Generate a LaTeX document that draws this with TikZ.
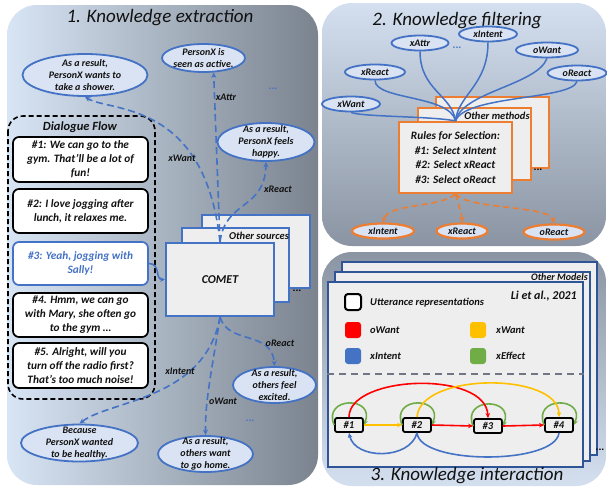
\documentclass[tikz,border=0pt]{standalone}
\usepackage{fontspec}
\setmainfont{Carlito}
\usetikzlibrary{arrows.meta,shapes.geometric}
\definecolor{eblue}{HTML}{4472C4}
\definecolor{efill}{HTML}{DAE3F3}
\definecolor{bfill}{HTML}{EEEEEE}
\definecolor{eorange}{HTML}{ED7D31}
\definecolor{cred}{HTML}{FF0000}
\definecolor{cyel}{HTML}{FFC000}
\definecolor{cgreen}{HTML}{70AD47}
\definecolor{mblue}{HTML}{2F5597}
\definecolor{pLight}{HTML}{D8E5F5}
\definecolor{pDark}{HTML}{7A838E}
\definecolor{qTop}{HTML}{D4E0F0}
\definecolor{qBot}{HTML}{8A94A2}
\definecolor{txt}{HTML}{111111}
\definecolor{sepgray}{HTML}{6F7784}
\begin{document}
\begin{tikzpicture}[x=1pt,y=-1pt,
  ell/.style={ellipse, draw=eblue, line width=1.8pt, fill=efill, inner sep=0pt},
  etext/.style={align=center, text=txt, font=\fontsize{10}{12}\selectfont\bfseries\itshape, inner sep=0pt},
  lbl/.style={font=\fontsize{10}{11}\selectfont\bfseries\itshape, text=txt, inner sep=0pt},
  ttl/.style={font=\fontsize{19}{21}\selectfont\itshape, text=txt, inner sep=0pt},
  dlg/.style={draw=black, rounded corners=6pt, line width=1.7pt, fill=white, minimum width=135pt, align=center, font=\fontsize{11.3}{14}\selectfont\bfseries\itshape, text=txt, inner sep=0pt},
  darr/.style={draw=eblue, line width=1.6pt, dash pattern=on 7pt off 4pt, -{Stealth[length=5.5pt,width=5pt]}},
  stk/.style={draw=eblue, fill=bfill, line width=1.3pt},
  ostk/.style={draw=eorange, fill=bfill, line width=1.8pt},
  mstk/.style={draw=mblue, fill=bfill, line width=1.4pt},
  bline/.style={draw=eblue, line width=1.5pt},
  sell/.style={ellipse, draw=eblue, line width=1.8pt, fill=efill, inner sep=0pt, minimum height=15pt, font=\fontsize{10}{11}\selectfont\bfseries\itshape, text=txt},
  oell/.style={ellipse, draw=eorange, line width=2.2pt, fill=efill, inner sep=0pt, minimum height=15pt, font=\fontsize{10}{11}\selectfont\bfseries\itshape, text=txt},
  oarr/.style={draw=eorange, line width=1.6pt, dash pattern=on 6pt off 4pt, -{Stealth[length=5.5pt,width=5pt]}},
  dots/.style={font=\fontsize{11}{12}\selectfont\bfseries, inner sep=0pt},
  unode/.style={draw=black, line width=1.8pt, fill=bfill, rounded corners=2pt, minimum width=28pt, minimum height=14pt, inner sep=0pt, font=\fontsize{10.5}{11}\selectfont\bfseries\itshape, text=txt},
  lsq/.style={rounded corners=3pt, minimum width=16pt, minimum height=16pt, inner sep=0pt},
  ltext/.style={anchor=west, font=\fontsize{10.5}{12}\selectfont\bfseries\itshape, text=txt, inner sep=0pt},
  iarr/.style={line width=1.6pt, -{Stealth[length=5pt,width=4.5pt]}}
]
\useasboundingbox (0,0) rectangle (607,488);
% ---------- panels ----------
\shade[left color=pLight, right color=pDark, rounded corners=30pt] (7,5) rectangle (318,485);
\shade[top color=qTop, bottom color=qBot, rounded corners=30pt] (322,3) rectangle (606,246);
\shade[top color=qBot, bottom color=qTop, rounded corners=30pt] (322,252) rectangle (606,486);

% ---------- panel 1 ----------
\node[ttl] (t1) at (160,18) {1. Knowledge extraction};

\node[ell, minimum width=125pt, minimum height=42pt] (shower) at (85,75) {};
\node[etext] (showert) at (shower) {As a result,\\PersonX wants to\\take a shower.};
\node[ell, minimum width=83pt, minimum height=28pt] (active) at (203.5,58) {};
\node[etext] (activet) at (active) {PersonX is\\seen as active.};
\node[ell, minimum width=97pt, minimum height=38pt] (happy) at (266,142) {};
\node[etext] (happyt) at (happy) {As a result,\\PersonX feels\\happy.};
\node[ell, minimum width=83pt, minimum height=36pt] (excited) at (274.5,385) {};
\node[etext] (excitedt) at (excited) {As a result,\\others feel\\excited.};
\node[ell, minimum width=95pt, minimum height=36pt] (home) at (205.5,454) {};
\node[etext] (homet) at (home) {As a result,\\others want\\to go home.};
\node[ell, minimum width=117pt, minimum height=37pt] (healthy) at (79.5,443) {};
\node[etext] (healthyt) at (healthy) {Because\\PersonX wanted\\to be healthy.};

\node[dots, text=eblue] (dotsA) at (273,89) {...};
\node[dots, text=eblue] (dotsB) at (250,421) {...};

% dialogue flow
\draw[black, line width=1.6pt, dash pattern=on 5pt off 3pt, rounded corners=15pt] (8,116) rectangle (155,399);
\node[font=\fontsize{12.5}{14}\selectfont\bfseries\itshape, text=txt] (dft) at (80,127) {Dialogue Flow};
\node[dlg, minimum height=45pt] (d1) at (80.5,159.5) {\#1: We can go to the\\gym. That’ll be a lot of\\fun!};
\node[dlg, minimum height=44pt] (d2) at (80.5,211) {\#2: I love jogging after\\lunch, it relaxes me.};
\node[dlg, minimum height=43pt, draw=eblue, text=eblue] (d3) at (80.5,263.5) {\#3: Yeah, jogging with\\Sally!};
\node[dlg, minimum height=44pt] (d4) at (80.5,315) {\#4. Hmm, we can go\\with Mary, she often go\\to the gym …};
\node[dlg, minimum height=45pt] (d5) at (80.5,365.5) {\#5. Alright, will you\\turn off the radio first?\\That’s too much noise!};

% COMET stack
\draw[stk] (202,215) rectangle (310,288);
\draw[stk] (182,228) rectangle (289,302);
\node[lbl, font=\fontsize{10.5}{11}\selectfont\bfseries\itshape] (osrc) at (259,236) {Other sources};
\node[draw=eblue, fill=bfill, line width=2pt, minimum width=108pt, minimum height=73pt, inner sep=0pt, font=\fontsize{12}{12}\selectfont\bfseries\itshape, text=txt] (comet) at (220,279.5) {COMET};
\node[dots] (dotsC) at (297,291) {...};

% arrows from COMET
\draw[darr] (comet.north) .. controls (205,100) and (110,112) .. (shower.south);
\draw[darr] (comet.north) -- (active.-55);
\draw[darr] (comet.north) .. controls (225,200) and (265,210) .. (happy.south);
\draw[darr] (comet.south) .. controls (228,345) and (272,330) .. (excited.north);
\draw[darr] (comet.south) .. controls (212,370) and (205,400) .. (home.north);
\draw[darr] (comet.south) .. controls (205,400) and (110,400) .. (healthy.north);
\draw[eblue, line width=1.5pt, -{Stealth[length=5pt,width=4.5pt]}] (d3.east) .. controls +(12,0) and +(-10,0) .. (comet.west);

\node[lbl] (lxWant) at (182,158) {xWant};
\node[lbl] (lxAttr) at (226,97) {xAttr};
\node[lbl] (lxReact) at (278,189) {xReact};
\node[lbl] (loReact) at (280,343) {oReact};
\node[lbl] (lxIntent) at (180,371) {xIntent};
\node[lbl] (loWant) at (223,401) {oWant};

% ---------- panel 2 ----------
\node[ttl] (t2) at (457,21) {2. Knowledge filtering};
\draw[ostk] (436,97) rectangle (549,168);
\draw[ostk] (418,108) rectangle (531,180);
\node[lbl, font=\fontsize{10.5}{11}\selectfont\bfseries\itshape] (omth) at (497,115.5) {Other methods};
\node[dots] (dotsD) at (538,170) {...};
\node[draw=eorange, fill=bfill, line width=2.2pt, minimum width=113pt, minimum height=71pt, inner sep=0pt, align=center, font=\fontsize{11.3}{14.5}\selectfont\bfseries\itshape, text=txt] (rules) at (455.5,157.5) {Rules for Selection:\\\#1: Select xIntent\\\#2: Select xReact\\\#3: Select oReact};

\node[sell, minimum width=58pt] (pxWant) at (351,104) {xWant};
\node[sell, minimum width=60pt] (pxReact) at (375,72) {xReact};
\node[sell, minimum width=57pt] (pxAttr) at (420,43) {xAttr};
\node[sell, minimum width=58pt] (pxIntent) at (488,34) {xIntent};
\node[sell, minimum width=62pt] (poWant) at (547,50) {oWant};
\node[sell, minimum width=59pt] (poReact) at (577,73) {oReact};
\node[dots, text=eblue] (dotsE) at (457,48) {...};

\draw[bline] (pxWant.south) .. controls (362,117) and (430,116) .. (rules.north);
\draw[bline] (pxReact.south) .. controls (375,100) and (450,95) .. (rules.north);
\draw[bline] (pxAttr.south) .. controls (420,90) and (452,95) .. (rules.north);
\draw[bline] (pxIntent.south) .. controls (488,85) and (458,95) .. (rules.north);
\draw[bline] (poWant.south) .. controls (537,85) and (462,92) .. (rules.north);
\draw[bline] (poReact.south) .. controls (572,100) and (465,95) .. (rules.north);

\node[oell, minimum width=62pt] (oxIntent) at (383,231) {xIntent};
\node[oell, minimum width=51pt] (oxReact) at (462,231) {xReact};
\node[oell, minimum width=61pt] (ooReact) at (554,232) {oReact};
\draw[oarr] (rules.south) .. controls (440,208) and (388,203) .. (oxIntent.north);
\draw[oarr] (rules.south) .. controls (458,205) and (462,212) .. (oxReact.north);
\draw[oarr] (rules.south) .. controls (470,210) and (550,205) .. (ooReact.north);

% ---------- panel 3 ----------
\draw[mstk] (342,262) rectangle (597,455);
\draw[mstk] (335,272) rectangle (590,461);
\node[lbl, anchor=east, font=\fontsize{10}{11}\selectfont\bfseries\itshape] (omod) at (588,277) {Other Models};
\node[draw=mblue, fill=bfill, line width=2pt, minimum width=255pt, minimum height=185pt, inner sep=0pt] (model) at (455.5,374.5) {};
\node[dots] (dotsF) at (600,450) {...};
\node[ttl] (t3) at (467,476) {3. Knowledge interaction};

\node[lsq, draw=black, line width=2pt, fill=white] (lu) at (353,302) {};
\node[ltext] (lut) at (370,303) {Utterance representations};
\node[anchor=east, font=\fontsize{12}{13}\selectfont\bfseries\itshape, text=txt, inner sep=0pt] (li) at (577,296) {Li et al., 2021};
\node[lsq, fill=cred] (lr) at (353,330) {};
\node[ltext] (lrt) at (370,330) {oWant};
\node[lsq, fill=cyel] (ly) at (478,330) {};
\node[ltext] (lyt) at (496,330) {xWant};
\node[lsq, fill=eblue] (lb) at (353,356) {};
\node[ltext] (lbt) at (370,356) {xIntent};
\node[lsq, fill=cgreen] (lg) at (478,356) {};
\node[ltext] (lgt) at (496,356) {xEffect};

\draw[sepgray, line width=1.6pt, dash pattern=on 7pt off 5pt] (model.west |- 0,374) -- (model.east |- 0,374);

\node[unode] (n1) at (349,425) {\#1};
\node[unode] (n2) at (417,425) {\#2};
\node[unode] (n3) at (488,426) {\#3};
\node[unode] (n4) at (559,425) {\#4};

\draw[iarr, cgreen] (n1.west) .. controls +(-12,-29) and +(12,-29) .. (n1.east);
\draw[iarr, cgreen] (n2.west) .. controls +(-12,-29) and +(12,-29) .. (n2.east);
\draw[iarr, cgreen] (n3.west) .. controls +(-12,-29) and +(12,-29) .. (n3.east);
\draw[iarr, cgreen] (n4.west) .. controls +(-12,-29) and +(12,-29) .. (n4.east);
\draw[iarr, cyel] (n1.east) -- (n2.west);
\draw[iarr, cred] (n2.east) -- (n3.west);
\draw[iarr, cred] (n3.east) -- (n4.west);
\draw[iarr, cred] (n1.north) .. controls (349,375) and (486,370) .. (n3.north);
\draw[iarr, cyel] (n2.north) .. controls (420,372) and (559,372) .. (n4.north);
\draw[iarr, eblue] (n2.south) .. controls (410,460) and (355,460) .. (n1.south);
\draw[line width=1.6pt, eblue] (n4.south) .. controls (555,465) and (420,465) .. (n2.south);
\end{tikzpicture}
\end{document}
